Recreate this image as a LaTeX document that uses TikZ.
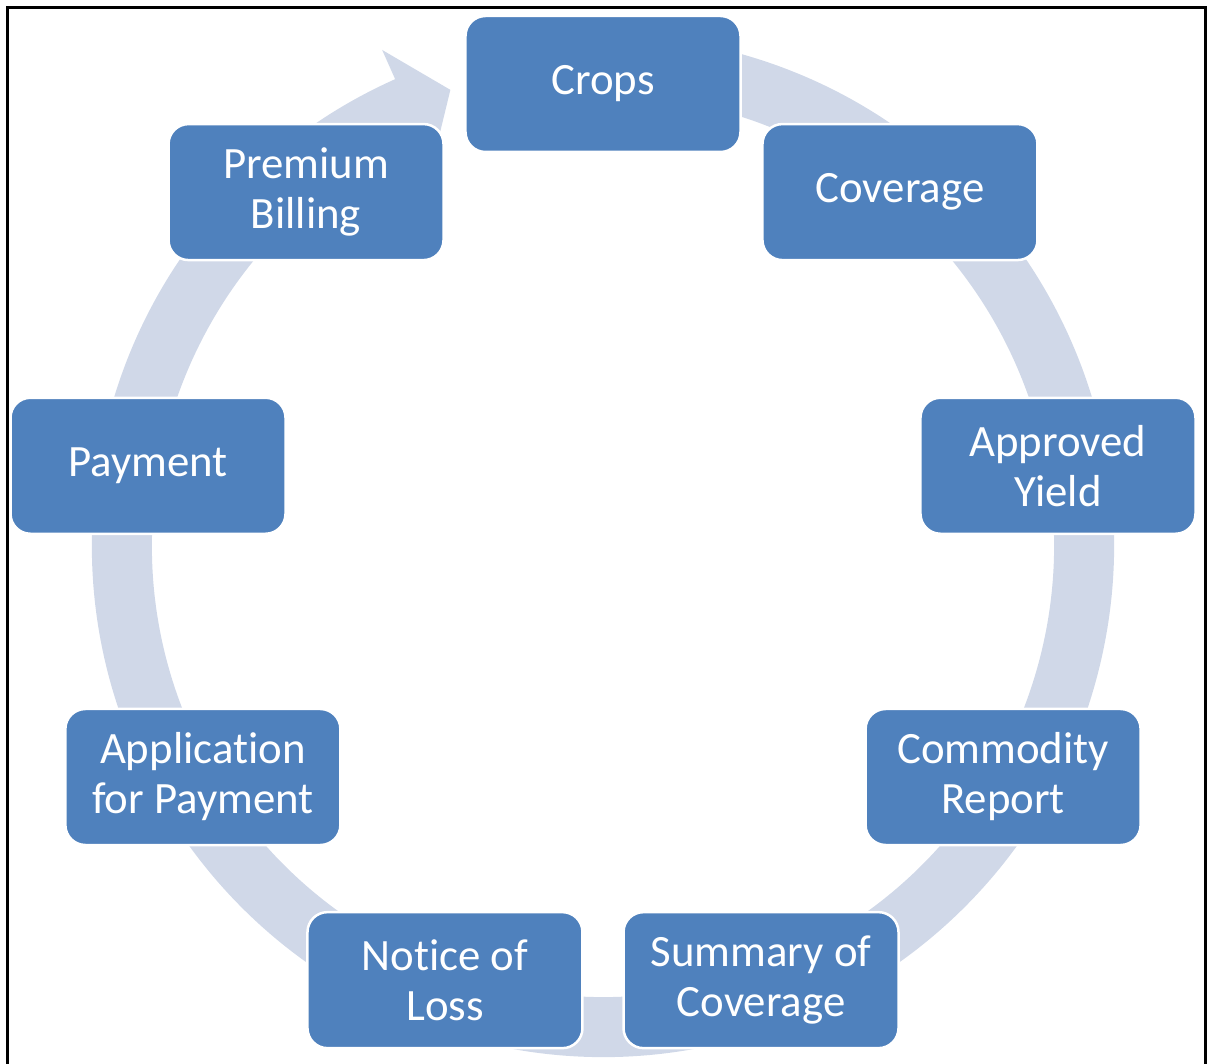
\documentclass[tikz,border=0pt]{standalone}
\usepackage{fontspec}
\setmainfont{Carlito}[Ligatures=NoCommon]
\usepackage{tikz}
\usetikzlibrary{positioning, calc}
\definecolor{colorBox}{RGB}{79, 129, 189}
\definecolor{colorRing}{RGB}{208, 216, 232}
\tikzstyle{stage} = [rectangle, rounded corners=4mm, minimum width=55mm, minimum height=27.2mm, align=center, text=white, draw=white, line width=0.5mm, fill=colorBox]
\tikzstyle{frame} = [line width=0.6mm, draw=black]

\begin{document}
\begin{tikzpicture}[x=0.2mm, y=0.2mm, font=\fontsize{25.5}{28.5}\selectfont]

		\useasboundingbox (-603,546) rectangle (604,-518);

		% frame (bottom edge lies below the picture)
		\draw[frame] (-595,-530) -- (-595,538) -- (602,538) -- (602,-530);

		% cycle arrow
		\fill[colorRing] (76:511) arc[start angle=76, end angle=-246, radius=511]
			-- (-246:543) -- (-251.5:481) -- (-246:419) -- (-246:451)
			arc[start angle=-246, end angle=76, radius=451] -- cycle;

		% stages
		\node (pCrops)[stage] at (90:462) {Crops};
		\node (pCoverage)[stage] at (50:462) {Coverage};
		\node (pApprovedYield)[stage] at (10:462) {Approved\\Yield};
		\node (pCommodityReport)[stage] at (-30:462) {Commodity\\Report};
		\node (pSummaryCoverage)[stage] at (-70:462) {Summary of\\Coverage};
		\node (pNoticeLoss)[stage] at (-110:462) {Notice of\\Loss};
		\node (pApplication)[stage] at (-150:462) {Application\\for Payment};
		\node (pPayment)[stage] at (170:462) {Payment};
		\node (pPremiumBilling)[stage] at (130:462) {Premium\\Billing};

	\end{tikzpicture}
\end{document}
